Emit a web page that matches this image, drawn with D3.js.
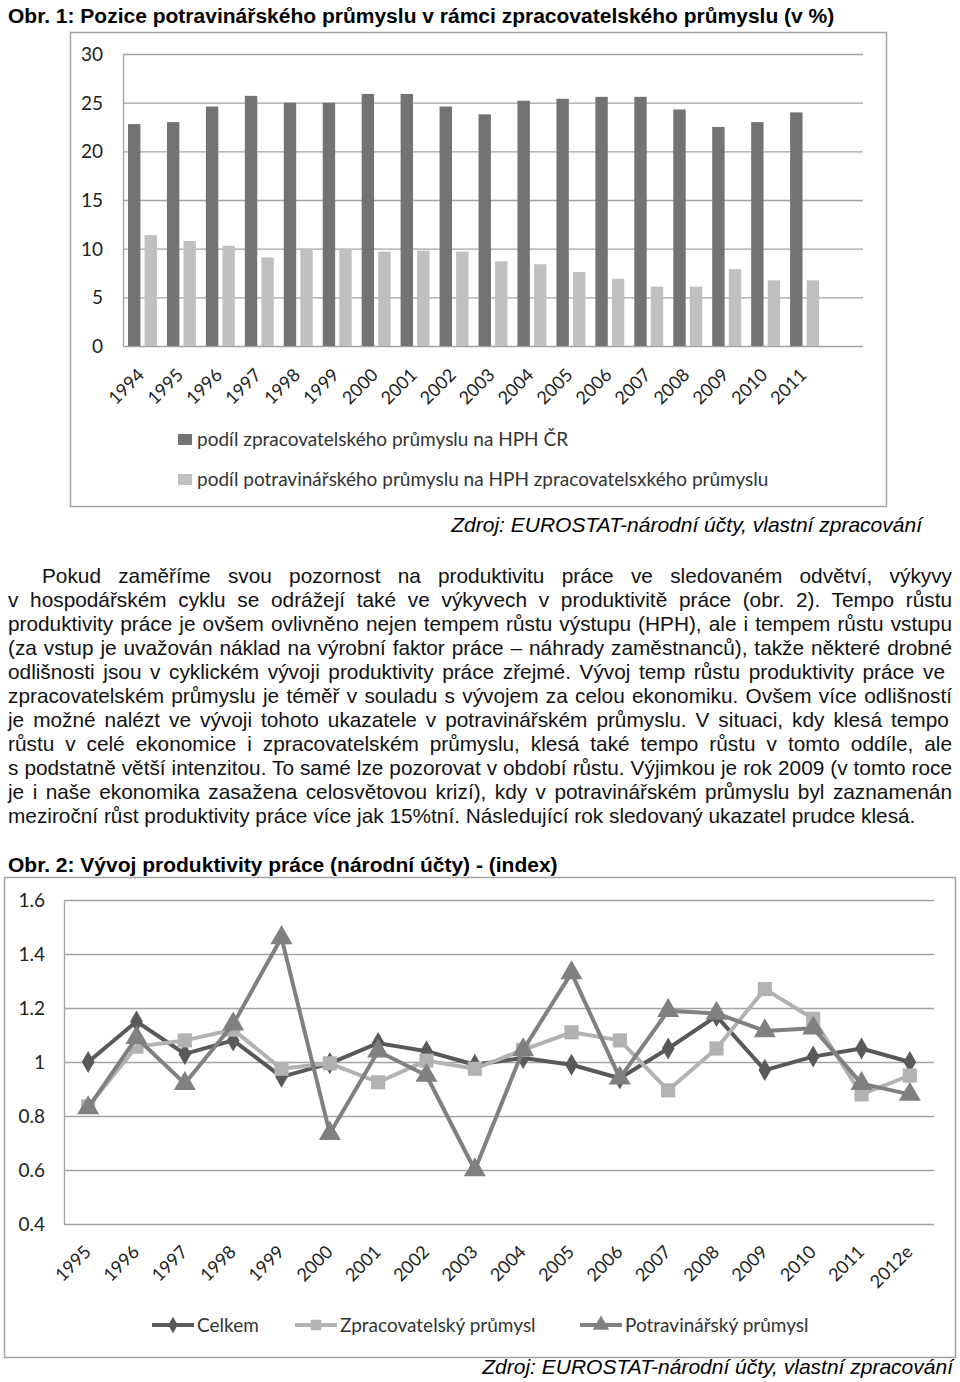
<!DOCTYPE html>
<html>
<head>
<meta charset="utf-8">
<script src="https://cdn.jsdelivr.net/npm/d3@7"></script>
<style>
body { margin: 0; background: #fff; }
svg { display: block; }
</style>
</head>
<body>
<script>
// obr. 1 data
let years1 = ["1994","1995","1996","1997","1998","1999","2000","2001","2002","2003","2004","2005","2006","2007","2008","2009","2010","2011"];
let zpracShare = [22.8,23.0,24.6,25.7,25.0,25.0,25.9,25.9,24.6,23.8,25.2,25.4,25.6,25.6,24.3,22.5,23.0,24.0];
let potravShare = [11.4,10.8,10.3,9.1,10.0,10.0,9.7,9.8,9.7,8.7,8.4,7.6,6.9,6.1,6.1,7.9,6.75,6.75];
let ticks1 = [0,5,10,15,20,25,30];
let legend1 = ["podíl zpracovatelského průmyslu na HPH ČR", "podíl potravinářského průmyslu na HPH zpracovatelsxkého průmyslu"];

// obr. 2 data
let years2 = ["1995","1996","1997","1998","1999","2000","2001","2002","2003","2004","2005","2006","2007","2008","2009","2010","2011","2012e"];
let celkem = [1.00,1.15,1.03,1.08,0.945,0.995,1.07,1.04,0.99,1.015,0.99,0.94,1.05,1.17,0.97,1.02,1.05,1.00];
let zpracIdx = [0.835,1.057,1.08,1.12,0.975,0.995,0.925,1.005,0.975,1.045,1.11,1.08,0.895,1.05,1.27,1.16,0.88,0.95];
let potravIdx = [0.83,1.09,0.92,1.14,1.46,0.735,1.04,0.95,0.60,1.045,1.33,0.94,1.19,1.18,1.115,1.125,0.92,0.88];
let ticks2 = [0.4,0.6,0.8,1,1.2,1.4,1.6];
let seriesNames2 = ["Celkem", "Zpracovatelský průmysl", "Potravinářský průmysl"];

let paragraph = [
  "Pokud zaměříme svou pozornost na produktivitu práce ve sledovaném odvětví, výkyvy",
  "v hospodářském cyklu se odrážejí také ve výkyvech v produktivitě práce (obr. 2). Tempo růstu",
  "produktivity práce je ovšem ovlivněno nejen tempem růstu výstupu (HPH), ale i tempem růstu vstupu",
  "(za vstup je uvažován náklad na výrobní faktor práce – náhrady zaměstnanců), takže některé drobné",
  "odlišnosti jsou v cyklickém vývoji produktivity práce zřejmé. Vývoj temp růstu produktivity práce ve",
  "zpracovatelském průmyslu je téměř v souladu s vývojem za celou ekonomiku. Ovšem více odlišností",
  "je možné nalézt ve vývoji tohoto ukazatele v potravinářském průmyslu. V  situaci, kdy klesá tempo",
  "růstu v celé ekonomice i zpracovatelském průmyslu, klesá také tempo růstu v tomto oddíle, ale",
  "s podstatně větší intenzitou. To samé lze pozorovat v období růstu. Výjimkou je rok 2009 (v tomto roce",
  "je i naše ekonomika zasažena celosvětovou krizí), kdy v potravinářském průmyslu byl zaznamenán",
  "meziroční růst produktivity práce více jak 15%tní. Následující rok sledovaný ukazatel prudce klesá."
];

let width = 960, height = 1382;
let svg = d3.select("body").append("svg")
  .attr("width", width)
  .attr("height", height);

const chartFont = "Lato, 'Open Sans', sans-serif";
const textFont = "'Liberation Sans', Arial, sans-serif";
const gridCol = "#a3a3a3";

// titles
svg.append("text")
  .attr("x", 8).attr("y", 23)
  .attr("font-family", textFont).attr("font-weight", "bold").attr("font-size", 21)
  .text("Obr. 1: Pozice potravinářského průmyslu v rámci zpracovatelského průmyslu (v %)");

svg.append("text")
  .attr("x", 8).attr("y", 872)
  .attr("font-family", textFont).attr("font-weight", "bold").attr("font-size", 21)
  .text("Obr. 2: Vývoj produktivity práce (národní účty) - (index)");

// ---------- chart 1 ----------
let g1 = svg.append("g");
g1.append("rect")
  .attr("x", 70.5).attr("y", 32.5).attr("width", 816).attr("height", 474)
  .attr("fill", "none").attr("stroke", gridCol).attr("stroke-width", 1.5);

let plot1 = {left: 123, right: 863, top: 54, bottom: 346};
let x1 = d3.scaleBand().domain(years1)
  .range([plot1.left, plot1.left + (plot1.right - plot1.left) * 18 / 19]);
let xs1 = d3.scaleBand().domain([0, 1]).range([5, x1.bandwidth() - 5]).paddingInner(0.25);
let y1 = d3.scaleLinear().domain([0, 30]).range([plot1.bottom, plot1.top]);

g1.append("g").selectAll("line").data(ticks1).enter().append("line")
  .attr("x1", plot1.left).attr("x2", plot1.right)
  .attr("y1", d => y1(d) + 0.5).attr("y2", d => y1(d) + 0.5)
  .attr("stroke", gridCol).attr("stroke-width", 1.3);
g1.append("line")
  .attr("x1", plot1.left + 0.5).attr("x2", plot1.left + 0.5)
  .attr("y1", plot1.top).attr("y2", plot1.bottom)
  .attr("stroke", gridCol).attr("stroke-width", 1.3);

g1.append("g").selectAll("text").data(ticks1).enter().append("text")
  .attr("x", 103).attr("y", d => y1(d) + 7)
  .attr("text-anchor", "end")
  .attr("font-family", chartFont).attr("font-size", 19).attr("fill", "#222")
  .text(d => d);

g1.append("g").selectAll("rect").data(years1).enter().append("rect")
  .attr("x", d => x1(d) + xs1(0)).attr("width", xs1.bandwidth())
  .attr("y", (d, i) => y1(zpracShare[i])).attr("height", (d, i) => y1(0) - y1(zpracShare[i]))
  .attr("fill", "#737373");
g1.append("g").selectAll("rect").data(years1).enter().append("rect")
  .attr("x", d => x1(d) + xs1(1)).attr("width", xs1.bandwidth())
  .attr("y", (d, i) => y1(potravShare[i])).attr("height", (d, i) => y1(0) - y1(potravShare[i]))
  .attr("fill", "#c0c0c0");

g1.append("g").selectAll("text").data(years1).enter().append("text")
  .attr("transform", d => "translate(" + (x1(d) + x1.bandwidth() / 2 + 3) + "," + 376 + ") rotate(-45)")
  .attr("text-anchor", "end")
  .attr("font-family", chartFont).attr("font-size", 18).attr("fill", "#222")
  .text(d => d);

let leg1 = g1.append("g").selectAll("g").data(legend1).enter().append("g")
  .attr("transform", (d, i) => "translate(178," + (434 + i * 40) + ")");
leg1.append("rect").attr("width", 14).attr("height", 11)
  .attr("fill", (d, i) => i === 0 ? "#737373" : "#c0c0c0");
leg1.append("text").attr("x", 19).attr("y", 12)
  .attr("font-family", chartFont).attr("font-size", 19).attr("fill", "#333")
  .text(d => d);

svg.append("text")
  .attr("x", 922).attr("y", 532).attr("text-anchor", "end")
  .attr("font-family", textFont).attr("font-style", "italic").attr("font-size", 21)
  .text("Zdroj: EUROSTAT-národní účty, vlastní zpracování");

// ---------- paragraph ----------
let para = svg.append("g")
  .attr("font-family", textFont).attr("font-size", 20.8).attr("fill", "#111");
paragraph.forEach((line, i) => {
  let x0 = i === 0 ? 42 : 8;
  let t = para.append("text")
    .attr("x", x0).attr("y", 583 + i * 24)
    .text(line);
  if (i < paragraph.length - 1) {
    let natural = t.node().getComputedTextLength();
    let spaces = (line.match(/ /g) || []).length;
    let target = (i === 4 ? 945 : 952) - x0;
    t.attr("word-spacing", (target - natural) / spaces);
  }
});

// ---------- chart 2 ----------
let g2 = svg.append("g");
g2.append("rect")
  .attr("x", 4.5).attr("y", 877.5).attr("width", 951).attr("height", 480)
  .attr("fill", "none").attr("stroke", gridCol).attr("stroke-width", 1.5);

let plot2 = {left: 64, right: 934, top: 900, bottom: 1224};
let x2 = d3.scalePoint().domain(years2).range([plot2.left, plot2.right]).padding(0.5);
let y2 = d3.scaleLinear().domain([0.4, 1.6]).range([plot2.bottom, plot2.top]);

g2.append("g").selectAll("line").data(ticks2).enter().append("line")
  .attr("x1", plot2.left).attr("x2", plot2.right)
  .attr("y1", d => y2(d) + 0.5).attr("y2", d => y2(d) + 0.5)
  .attr("stroke", gridCol).attr("stroke-width", 1.3);
g2.append("line")
  .attr("x1", plot2.left + 0.5).attr("x2", plot2.left + 0.5)
  .attr("y1", plot2.top).attr("y2", plot2.bottom)
  .attr("stroke", gridCol).attr("stroke-width", 1.3);

g2.append("g").selectAll("text").data(ticks2).enter().append("text")
  .attr("x", 45).attr("y", d => y2(d) + 7)
  .attr("text-anchor", "end")
  .attr("font-family", chartFont).attr("font-size", 19).attr("fill", "#222")
  .text(d => d === 1 ? "1" : d.toFixed(1));

g2.append("g").selectAll("text").data(years2).enter().append("text")
  .attr("transform", d => "translate(" + (x2(d) + 4) + "," + 1253 + ") rotate(-45)")
  .attr("text-anchor", "end")
  .attr("font-family", chartFont).attr("font-size", 18).attr("fill", "#222")
  .text(d => d);

let series2 = [
  {name: seriesNames2[0], values: celkem, color: "#595959", symbol: d3.symbolDiamond, size: 140},
  {name: seriesNames2[1], values: zpracIdx, color: "#b2b2b2", symbol: d3.symbolSquare, size: 200},
  {name: seriesNames2[2], values: potravIdx, color: "#808080", symbol: d3.symbolTriangle, size: 210}
];

let line2 = d3.line().x((d, i) => x2(years2[i])).y(d => y2(d));

series2.forEach(s => {
  g2.append("path")
    .attr("d", line2(s.values))
    .attr("fill", "none").attr("stroke", s.color).attr("stroke-width", 4)
    .attr("stroke-linejoin", "round");
  g2.append("g").selectAll("path").data(s.values).enter().append("path")
    .attr("transform", (d, i) => "translate(" + x2(years2[i]) + "," + y2(d) + ")")
    .attr("d", d3.symbol().type(s.symbol).size(s.size))
    .attr("fill", s.color);
});

let legX = [152, 295, 580];
series2.forEach((s, i) => {
  let lg = g2.append("g").attr("transform", "translate(" + legX[i] + ",1325)");
  lg.append("line").attr("x1", 0).attr("x2", 42)
    .attr("stroke", s.color).attr("stroke-width", 4);
  lg.append("path").attr("transform", "translate(21,0)")
    .attr("d", d3.symbol().type(s.symbol).size(s.size * 0.55))
    .attr("fill", s.color);
  lg.append("text").attr("x", 45).attr("y", 7)
    .attr("font-family", chartFont).attr("font-size", 19).attr("fill", "#333")
    .text(s.name);
});

svg.append("text")
  .attr("x", 953).attr("y", 1374).attr("text-anchor", "end")
  .attr("font-family", textFont).attr("font-style", "italic").attr("font-size", 21)
  .text("Zdroj: EUROSTAT-národní účty, vlastní zpracování");
</script>
</body>
</html>
